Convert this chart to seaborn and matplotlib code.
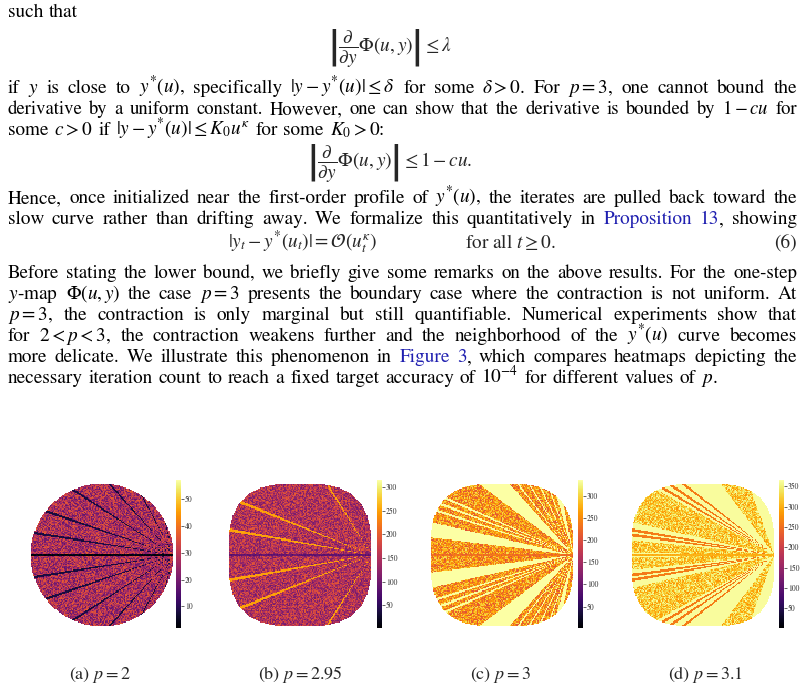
import re
import numpy as np
import pandas as pd
import matplotlib
matplotlib.use("Agg")
import matplotlib.pyplot as plt
import seaborn as sns

sns.set_theme(style="white")
plt.rcParams['font.family'] = ['STIXGeneral', 'DejaVu Serif']
plt.rcParams['mathtext.fontset'] = 'stix'

# ---- data ----
p_values = [2, 2.95, 3, 3.1]
captions = ["(a) $p = 2$", "(b) $p = 2.95$", "(c) $p = 3$", "(d) $p = 3.1$"]
vmins = [2, 2, 2, 2]
vmaxs = [57, 315, 335, 365]
cbar_ticks = [[10, 20, 30, 40, 50], [50, 100, 150, 200, 250, 300],
              [50, 100, 150, 200, 250, 300], [50, 100, 150, 200, 250, 300, 350]]
base_mean = [27, 150, 255, 335]
noise_amp = [10, 50, 55, 30]
centre_val = [3, 90, 230, 300]
ray_angles = [[9, 19, 33, 48, 62, 76],
              [10, 22, 58],
              [18, 21, 24, 52, 58, 64, 70],
              [8, 10, 31, 34, 38]]
ray_vals = [8, 250, 335, 260]
ray_width = [0.5, 0.6, 0.5, 0.6]
wedges = [[], [],
          [(7, 13), (37, 48), (74, 79)],
          [(0.5, 1e9)]]
wedge_vals = [0, 0, 335, 362]
tex_wedges = [[], [], [], [(1, 6), (13, 29), (53, 70)]]

N = 130

def field(k):
    xs = np.linspace(-1, 1, N)
    X, Y = np.meshgrid(xs, xs)
    I, J = np.meshgrid(np.arange(N), np.arange(N))
    h = np.sin(I * 12.9898 + J * 78.233 + k * 3.7) * 43758.5453
    h = (h - np.floor(h)) * 2 - 1
    ang = np.degrees(np.arctan2(np.abs(Y), 1.0 - X + 1e-9))
    Z = base_mean[k] + noise_amp[k] * h
    for lo, hi in wedges[k]:
        Z = np.where((ang >= lo) & (ang <= hi), wedge_vals[k], Z)
    for lo, hi in tex_wedges[k]:
        m = (ang >= lo) & (ang <= hi)
        Z = np.where(m, 320 + 45 * h, Z)
    for a in ray_angles[k]:
        Z = np.where(np.abs(ang - a) < ray_width[k], ray_vals[k] + 0.1 * noise_amp[k] * h, Z)
    Z = np.where(np.abs(Y) < 0.02, centre_val[k] + 0.3 * noise_amp[k] * h, Z)
    Z = np.clip(Z, vmins[k], vmaxs[k])
    p = p_values[k]
    mask = (np.abs(X) ** p + np.abs(Y) ** p) > 1.0
    return pd.DataFrame(Z), mask

W, H = 806, 691
fig = plt.figure(figsize=(W / 100, H / 100), dpi=100)
renderer = fig.canvas.get_renderer()
FS = 13.9
X0, X1 = 8, 797
MIN_GAP = 6.5

def words(txt):
    parts = re.split(r'(\$[^$]*\$)', txt)
    out, cur = [], ''
    for part in parts:
        if part.startswith('$'):
            cur += part
        else:
            pieces = part.split(' ')
            for i, pc in enumerate(pieces):
                if i > 0:
                    out.append(cur); cur = ''
                cur += pc
    out.append(cur)
    return out

def line(y, segs, x=X0, justify=True, size=FS):
    toks = []
    for txt, col in segs:
        ws = words(txt)
        for i, w in enumerate(ws):
            glue = (i == 0 and toks and not txt.startswith(' '))
            if w == '':
                continue
            toks.append([w, col, glue])
    while True:
        arts = []
        for w, col, glue in toks:
            t = fig.text(0, 1 - y / H, w, fontsize=size, color=col, va='baseline', ha='left')
            bb = t.get_window_extent(renderer)
            arts.append((t, bb.width, glue))
        ngaps = sum(1 for a in arts[1:] if not a[2])
        total = sum(a[1] for a in arts)
        if not justify or ngaps == 0 or (X1 - x - total) / ngaps >= MIN_GAP:
            break
        for a in arts:
            a[0].remove()
        size -= 0.1
    space = size * 0.3 * 100 / 72
    if justify and ngaps:
        space = (X1 - x - total) / ngaps
    for i, (t, wdt, glue) in enumerate(arts):
        if i > 0 and not glue:
            x += space
        t.set_x(x / W)
        x += wdt

blue = '#1f1fb0'
k_ = 'black'
line(17, [("such that", k_)], justify=False)
fig.text(390 / W, 1 - 52 / H, r'$\left|\dfrac{\partial}{\partial y}\Phi(u,y)\right| \leq \lambda$',
         fontsize=FS, ha='center', va='baseline')
line(93, [(r"if $y$ is close to $y^{*}(u)$, specifically $|y - y^{*}(u)| \leq \delta$ for some $\delta > 0$. For $p = 3$, one cannot bound the", k_)])
line(114, [(r"derivative by a uniform constant. However, one can show that the derivative is bounded by $1 - cu$ for", k_)])
line(135, [(r"some $c > 0$ if $|y - y^{*}(u)| \leq K_0 u^{\kappa}$ for some $K_0 > 0$:", k_)], justify=False)
fig.text(390 / W, 1 - 167 / H, r'$\left|\dfrac{\partial}{\partial y}\Phi(u,y)\right| \leq 1 - cu.$',
         fontsize=FS, ha='center', va='baseline')
line(203, [(r"Hence, once initialized near the first-order profile of $y^{*}(u)$, the iterates are pulled back toward the", k_)])
line(224, [("slow curve rather than drifting away. We formalize this quantitatively in", k_),
           (" Proposition 13", blue), (", showing", k_)])
fig.text(228 / W, 1 - 248 / H, r"$|y_t - y^{*}(u_t)| = \mathcal{O}(u_t^{\kappa})$", fontsize=FS, va='baseline')
fig.text(465 / W, 1 - 248 / H, r"for all $t \geq 0$.", fontsize=FS, va='baseline')
fig.text(797 / W, 1 - 248 / H, "(6)", fontsize=FS, va='baseline', ha='right')
line(278, [("Before stating the lower bound, we briefly give some remarks on the above results. For the one-step", k_)])
line(299, [(r"$y$-map $\Phi(u,y)$ the case $p = 3$ presents the boundary case where the contraction is not uniform. At", k_)])
line(320, [(r"$p = 3$, the contraction is only marginal but still quantifiable. Numerical experiments show that", k_)])
line(341, [(r"for $2 < p < 3$, the contraction weakens further and the neighborhood of the $y^{*}(u)$ curve becomes", k_)])
line(362, [("more delicate. We illustrate this phenomenon in", k_), (" Figure 3", blue),
           (", which compares heatmaps depicting the", k_)])
line(383, [(r"necessary iteration count to reach a fixed target accuracy of $10^{-4}$ for different values of $p$.", k_)], justify=False)

lefts = [30, 228, 430, 631]
cb_lefts = [176, 377, 578, 779]
cap_x = [100, 300, 500, 705]
for k in range(4):
    Z, mask = field(k)
    ax = fig.add_axes([lefts[k] / W, (H - 627) / H, 144 / W, 144 / H])
    cax = fig.add_axes([cb_lefts[k] / W, (H - 628) / H, 5 / W, 148 / H])
    sns.heatmap(Z, mask=mask, cmap='inferno', vmin=vmins[k], vmax=vmaxs[k], ax=ax,
                cbar_ax=cax, xticklabels=False, yticklabels=False,
                cbar_kws={'ticks': cbar_ticks[k]})
    ax.set_position([lefts[k] / W, (H - 627) / H, 144 / W, 144 / H])
    cax.tick_params(labelsize=5.5, length=2, width=0.5, pad=1)
    for s in cax.spines.values():
        s.set_visible(False)
    fig.text(cap_x[k] / W, 1 - 679 / H, captions[k], fontsize=13, ha='center', va='baseline')

fig.savefig("out.png", dpi=100)
